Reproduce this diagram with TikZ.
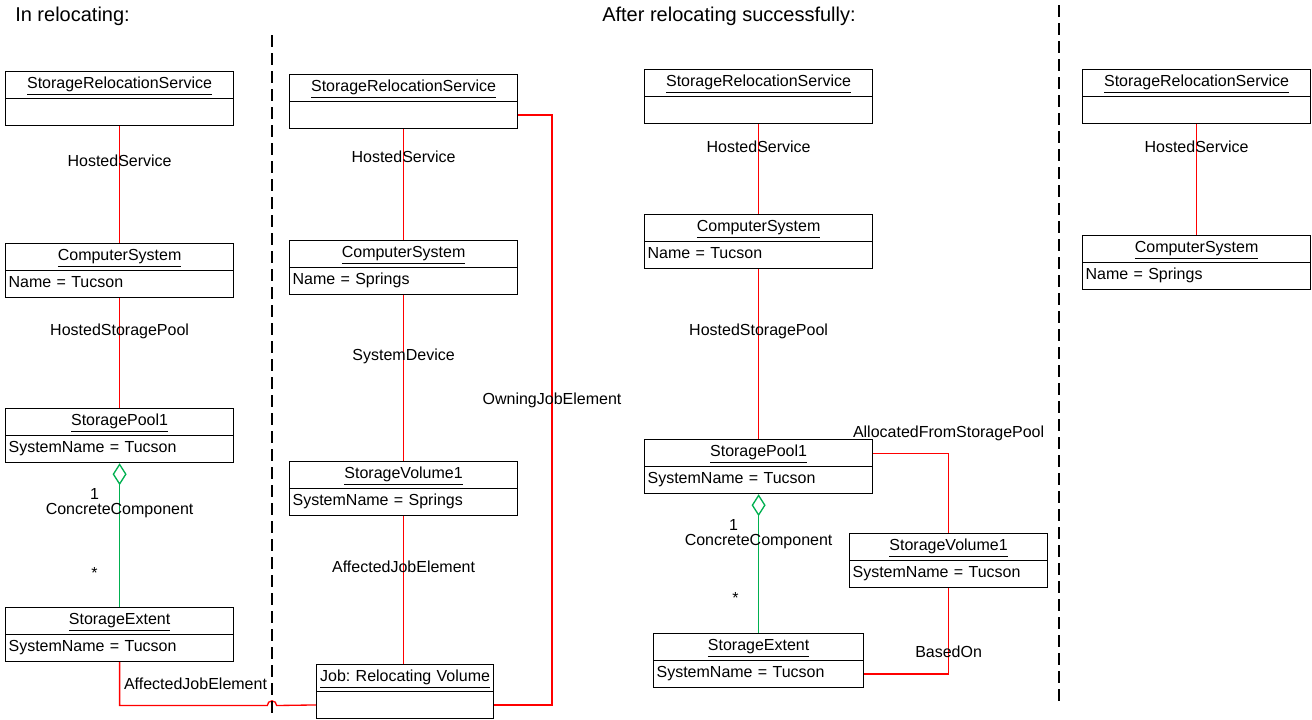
\documentclass[tikz,border=0pt]{standalone}
\usepackage{fontspec}
\setmainfont{Liberation Sans}
\frenchspacing
\usetikzlibrary{positioning,arrows.meta,shapes.multipart}
\definecolor{assocred}{HTML}{FF0000}
\definecolor{aggrgreen}{HTML}{00B050}

\begin{document}
\begin{tikzpicture}[
        x=0.75pt, y=-0.75pt,
        every node/.style={font=\fontsize{12}{14}\selectfont},
        object/.style={rectangle split, rectangle split parts=2, draw=black, line width=0.9pt, fill=white, text width=166.5pt, inner xsep=2.25pt, inner ysep=2.6pt, align=left, anchor=north west},
        heading/.style={font=\fontsize{15}{18}\selectfont, anchor=west, inner sep=0pt},
        link/.style={color=assocred, line width=1pt},
        aggregation/.style={color=aggrgreen, line width=1pt, {Diamond[open, length=16.5pt, width=10.5pt]}-},
        labeltext/.style={text=black, inner sep=1pt},
        divider/.style={draw=black, line width=2.2pt, dash pattern=on 9pt off 4.5pt}
    ]
        \useasboundingbox (0,0) rectangle (1312,719);

        \node[heading] (inReloc) at (15,16) {In relocating:};
        \node[heading] (afterReloc) at (602,16) {After relocating successfully:};

        \node[object] (srsA) at (5,71) {\hfill\underline{StorageRelocationService}\hfill\strut\nodepart{two}\strut};
        \node[object] (csA) at (5,243) {\hfill\underline{ComputerSystem}\hfill\strut\nodepart{two}Name = Tucson\strut};
        \node[object] (spA) at (5,408) {\hfill\underline{StoragePool1}\hfill\strut\nodepart{two}SystemName = Tucson\strut};
        \node[object] (seA) at (5,607) {\hfill\underline{StorageExtent}\hfill\strut\nodepart{two}SystemName = Tucson\strut};

        \node[object] (srsB) at (289,74) {\hfill\underline{StorageRelocationService}\hfill\strut\nodepart{two}\strut};
        \node[object] (csB) at (289,240) {\hfill\underline{ComputerSystem}\hfill\strut\nodepart{two}Name = Springs\strut};
        \node[object] (svB) at (289,461) {\hfill\underline{StorageVolume1}\hfill\strut\nodepart{two}SystemName = Springs\strut};
        \node[object, text width=131.75pt, inner xsep=0.5pt] (jobB) at (316,664) {\hfill\underline{Job: Relocating Volume}\hfill\strut\nodepart{two}\strut};

        \node[object] (srsC) at (644,69) {\hfill\underline{StorageRelocationService}\hfill\strut\nodepart{two}\strut};
        \node[object] (csC) at (644,214) {\hfill\underline{ComputerSystem}\hfill\strut\nodepart{two}Name = Tucson\strut};
        \node[object] (spC) at (644,439) {\hfill\underline{StoragePool1}\hfill\strut\nodepart{two}SystemName = Tucson\strut};
        \node[object, text width=153pt] (seC) at (653,633) {\hfill\underline{StorageExtent}\hfill\strut\nodepart{two}SystemName = Tucson\strut};
        \node[object, text width=144pt] (svC) at (849,533) {\hfill\underline{StorageVolume1}\hfill\strut\nodepart{two}SystemName = Tucson\strut};

        \node[object] (srsD) at (1082,69) {\hfill\underline{StorageRelocationService}\hfill\strut\nodepart{two}\strut};
        \node[object] (csD) at (1082,235) {\hfill\underline{ComputerSystem}\hfill\strut\nodepart{two}Name = Springs\strut};

        \coordinate (hopA) at (267.3,705.5);
        \coordinate (ownJ) at (552,400);

        \draw[link] (srsA) -- (csA) node[labeltext, pos=0.30]{HostedService};
        \draw[link] (csA) -- (spA) node[labeltext, pos=0.30]{HostedStoragePool};
        \draw[aggregation] (spA) -- (seA)
            node[labeltext, pos=0.215, xshift=-18.75pt]{1}
            node[labeltext, pos=0.33]{ConcreteComponent}
            node[labeltext, pos=0.76, xshift=-18.75pt]{*};
        \draw[link] (seA.south) |- (hopA) node[labeltext, pos=0.757, yshift=16.5pt]{AffectedJobElement}
            arc[start angle=180, end angle=0, radius=3.5pt] -- ([yshift=-10pt]jobB.west);

        \draw[link] (srsB) -- (csB) node[labeltext, pos=0.25]{HostedService};
        \draw[link] (csB) -- (svB) node[labeltext, pos=0.37]{SystemDevice};
        \draw[link] (svB.south) -- (svB.south |- jobB.north) node[labeltext, pos=0.345]{AffectedJobElement};
        \draw[link] ([yshift=-10pt]srsB.east) -| (ownJ) node[labeltext]{OwningJobElement} |- ([yshift=-10pt]jobB.east);

        \draw[link] (srsC) -- (csC) node[labeltext, pos=0.25]{HostedService};
        \draw[link] (csC) -- (spC) node[labeltext, pos=0.365]{HostedStoragePool};
        \draw[aggregation] (spC) -- (seC)
            node[labeltext, pos=0.22, xshift=-18.75pt]{1}
            node[labeltext, pos=0.34]{ConcreteComponent}
            node[labeltext, pos=0.75, xshift=-17.25pt]{*};
        \draw[link] ([yshift=10pt]spC.east) -| node[labeltext, pos=0.5, yshift=15pt]{AllocatedFromStoragePool} (svC.north);
        \draw[link] (svC.south) |- node[labeltext, pos=0.37]{BasedOn} ([yshift=-10pt]seC.east);

        \draw[link] (srsD) -- (csD) node[labeltext, pos=0.2]{HostedService};

        \draw[divider] (272,35) -- (272,719);
        \draw[divider] (1059,5) -- (1059,703);
    \end{tikzpicture}
\end{document}
